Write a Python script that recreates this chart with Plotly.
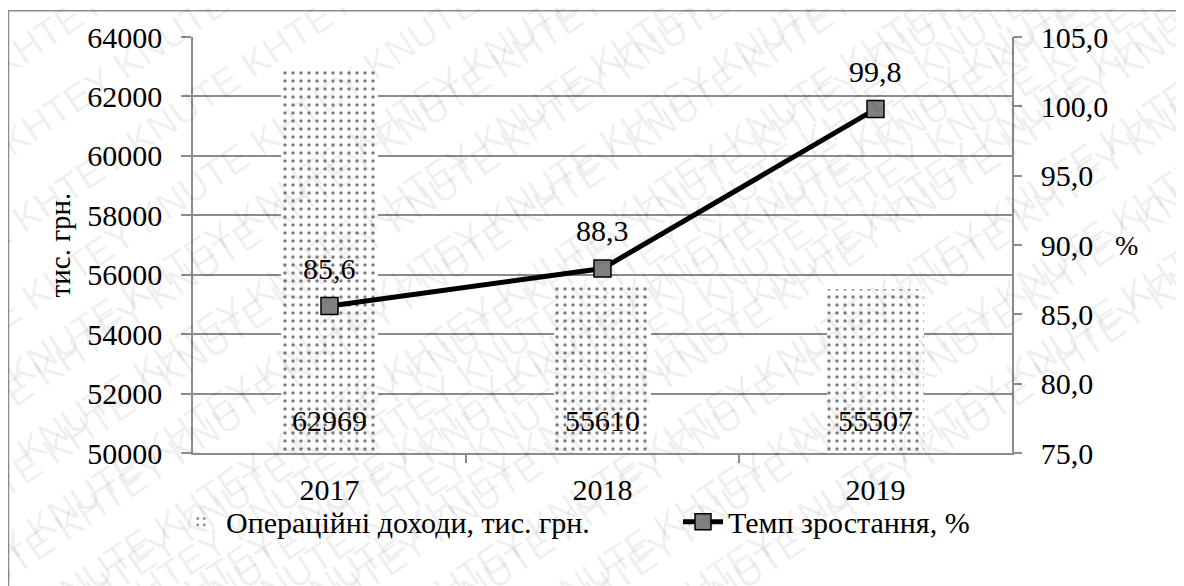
import plotly.graph_objects as go

years = ["2017", "2018", "2019"]
income = [62969, 55610, 55507]
growth = [85.6, 88.3, 99.8]
bar_name = "Операційні доходи, тис. грн."
line_name = "Темп зростання, %"
y1_title = "тис. грн."
y2_title = "%"
watermark_words = ["KNUTE ", "KHTEY "]

pos = list(range(len(years)))

FONT = "Liberation Serif, Tinos, Times New Roman, DejaVu Serif, Noto Serif, serif"
WFONT = "Liberation Sans, Arial, sans-serif"
GRID = "#8c8c8c"
TS = 30


def px(page_x):
    return (page_x - 193) / 819


def py(page_y):
    return (453 - page_y) / 418


fig = go.Figure()
fig.add_trace(go.Bar(
    x=pos, y=income, name=bar_name, width=0.355, legend="legend",
    marker=dict(color="white", line=dict(width=0),
                pattern=dict(shape=".", size=8, solidity=0.15, fgcolor="black", bgcolor="white")),
    yaxis="y",
))
fig.add_trace(go.Scatter(
    x=pos, y=growth, name=line_name, mode="lines+markers", legend="legend2",
    line=dict(color="black", width=5),
    marker=dict(symbol="square", size=17, color="#808080", line=dict(color="black", width=1.5)),
    yaxis="y2",
))

annotations = []
# watermark (drawn first so it is beneath the other annotations)
for k in range(-8, 18):
    cx = -300 + k * 125
    word = watermark_words[k % 2] + watermark_words[(k + 1) % 2]
    annotations.append(dict(x=px(cx), y=py(300), xref="paper", yref="paper",
                            text=word * 6, showarrow=False, textangle=-34,
                            font=dict(family=WFONT, size=38, color="rgba(0,0,0,0.065)")))
for p, v in zip(pos, income):
    annotations.append(dict(x=p, y=51100, xref="x", yref="y", text=str(v), showarrow=False,
                            font=dict(family=FONT, size=TS, color="black")))
for p, g in zip(pos, growth):
    annotations.append(dict(x=p, y=g, xref="x", yref="y2", text=f"{g:.1f}".replace(".", ","),
                            showarrow=False, yshift=38,
                            font=dict(family=FONT, size=TS, color="black")))
annotations.append(dict(x=px(1140), y=py(244), xref="paper", yref="paper",
                        text=y2_title, showarrow=False,
                        font=dict(family=FONT, size=28, color="black")))

legend_common = dict(orientation="h", xanchor="left", y=py(522), yanchor="middle",
                     font=dict(family=FONT, size=TS), bgcolor="rgba(0,0,0,0)", itemwidth=40)

fig.update_layout(
    width=1184, height=586,
    margin=dict(l=185, r=180, t=27, b=141),
    paper_bgcolor="white", plot_bgcolor="white",
    separators=",.",
    font=dict(family=FONT, size=TS, color="black"),
    showlegend=True,
    legend=dict(x=px(176), **legend_common),
    legend2=dict(x=px(678), **legend_common),
    xaxis=dict(range=[-0.5, 2.5], tickvals=pos, ticktext=years, showline=True, linecolor=GRID, linewidth=1.5,
               ticks="", showgrid=False, zeroline=False, tickfont=dict(family=FONT, size=TS),
               ticklabelstandoff=9,
               minor=dict(tickvals=[0.5, 1.5], ticks="outside", ticklen=8, tickcolor=GRID, tickwidth=1.5,
                          showgrid=False)),
    yaxis=dict(range=[50000, 64000], dtick=2000, tickformat="d", showline=True, linecolor=GRID, linewidth=1.5,
               ticks="outside", ticklen=10, tickcolor=GRID, tickwidth=1.5,
               showgrid=True, gridcolor=GRID, gridwidth=1.5, zeroline=False,
               tickfont=dict(family=FONT, size=TS), ticklabelstandoff=13,
               title=dict(text=y1_title, font=dict(family=FONT, size=29), standoff=8)),
    yaxis2=dict(range=[75, 105], dtick=5, tickformat=".1f", overlaying="y", side="right",
                showline=True, linecolor=GRID, linewidth=1.5,
                ticks="outside", ticklen=8, tickcolor=GRID, tickwidth=1.5,
                showgrid=False, zeroline=False, tickfont=dict(family=FONT, size=TS),
                ticklabelstandoff=13),
    annotations=annotations,
    shapes=[dict(type="rect", xref="paper", yref="paper",
                 x0=(0.5 - 185) / 819, x1=(1200 - 185) / 819,
                 y0=(445 - 620) / 418, y1=(445 - 0.5) / 418,
                 line=dict(color=GRID, width=1.5), fillcolor="rgba(0,0,0,0)", layer="below")],
)

fig.write_html("out.html")
